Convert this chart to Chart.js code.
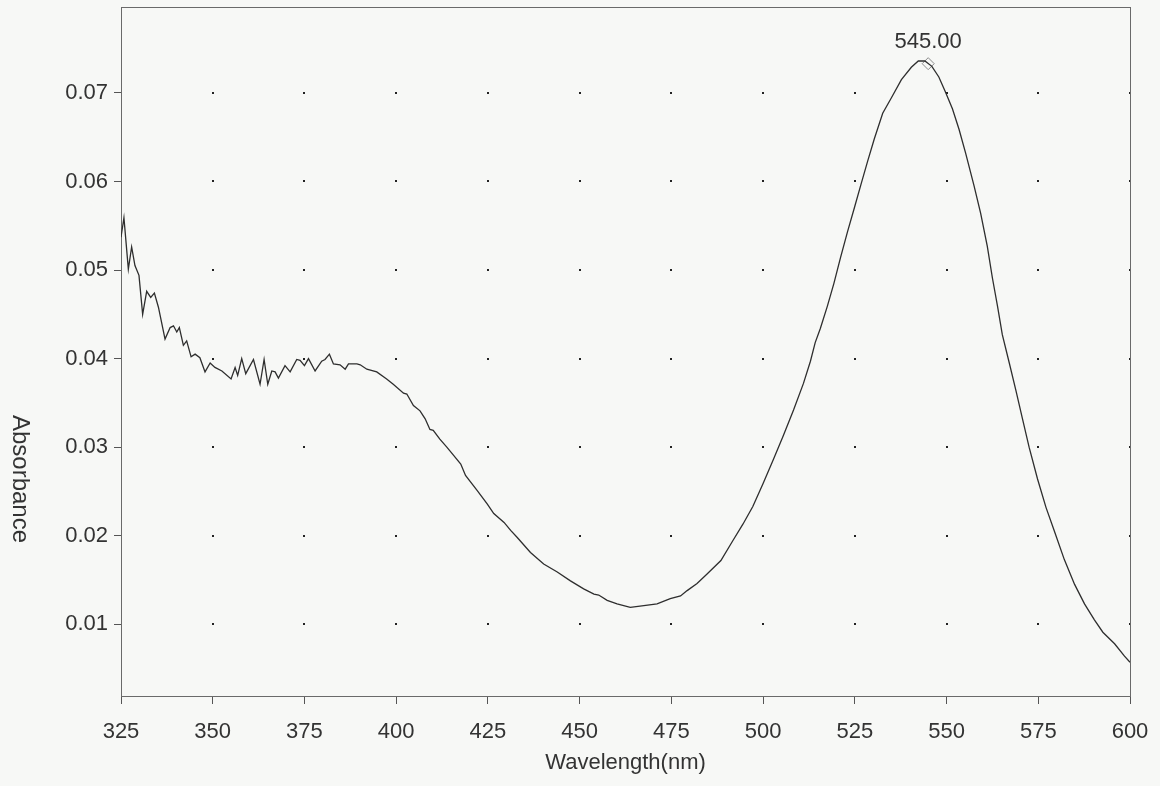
<!DOCTYPE html>
<html>
<head>
<meta charset="utf-8">
<script src="https://cdn.jsdelivr.net/npm/chart.js@4.4.1/dist/chart.umd.min.js"></script>
<style>
    html, body { margin: 0; padding: 0; background: #f7f8f6; overflow: hidden; }
    #wrap { width: 1160px; height: 786px; }
</style>
</head>
<body>
<div id="wrap"><canvas id="spectrum" width="1160" height="786"></canvas></div>
<script>
// spectrum
const wavelengths = [
    325.0, 325.8, 327.0, 327.9, 328.8, 329.9, 330.9, 332.0, 333.1, 334.1, 335.2, 337.0, 338.4, 339.3, 340.2, 340.9, 342.0, 342.9, 344.1, 345.2, 346.5, 347.9, 349.3,
    350.6, 352.5, 355.0, 356.1, 356.8, 357.9, 359.0, 361.1, 362.9, 364.0, 365.0, 366.1, 367.0, 367.9, 369.7, 371.1, 372.9, 373.8,
    375.0, 376.1, 377.9, 379.7, 380.6, 381.8, 382.9, 384.7, 386.1, 387.0, 389.3, 390.2, 392.0, 394.7, 397.4, 399.2,
    402.0, 402.9, 404.7, 406.5, 407.9, 409.2, 410.1, 411.9, 413.8, 415.6, 417.6, 418.9, 422.1, 424.8, 426.6, 429.4, 431.2, 433.0, 436.6, 440.2, 443.9, 447.5,
    451.1, 453.9, 455.2, 457.5, 460.2, 463.8, 467.5, 471.1, 474.7, 477.5, 479.3, 482.0, 484.8, 488.5, 491.7, 494.5, 497.2,
    500.0, 502.8, 505.5, 508.3, 511.0, 512.9, 514.2, 515.6, 517.5, 519.3, 521.1, 523.0, 525.0, 526.7, 528.5, 530.3, 532.6, 534.9, 537.7, 540.4, 542.3, 544.1,
    546.0, 547.9, 549.7, 551.6, 553.4, 555.2, 557.5, 559.3, 561.1, 562.5, 563.9, 565.2, 567.1, 568.9, 570.7, 572.5, 574.8, 577.1, 579.4, 582.1, 584.9, 587.6, 590.3, 592.6, 595.8, 598.5, 600.0
];
const absorbance = [
    0.0537, 0.0559, 0.0501, 0.0526, 0.0505, 0.0494, 0.0450, 0.0476, 0.0469, 0.0474, 0.0458, 0.0422, 0.0435, 0.0437, 0.0430, 0.0435, 0.0415, 0.0420, 0.0402, 0.0405, 0.0401, 0.0385, 0.0395,
    0.0390, 0.0386, 0.0377, 0.0390, 0.0381, 0.0400, 0.0383, 0.0399, 0.0371, 0.0399, 0.0371, 0.0386, 0.0385, 0.0378, 0.0392, 0.0385, 0.0399, 0.0398,
    0.0392, 0.0400, 0.0386, 0.0397, 0.0399, 0.0405, 0.0394, 0.0393, 0.0388, 0.0394, 0.0394, 0.0393, 0.0388, 0.0385, 0.0377, 0.0371,
    0.0361, 0.0360, 0.0347, 0.0341, 0.0332, 0.0320, 0.0319, 0.0309, 0.0300, 0.0291, 0.0281, 0.0268, 0.0251, 0.0236, 0.0225, 0.0215, 0.0206, 0.0198, 0.0181, 0.0168, 0.0159, 0.0149,
    0.0140, 0.0134, 0.0133, 0.0127, 0.0123, 0.0119, 0.0121, 0.0123, 0.0129, 0.0132, 0.0138, 0.0146, 0.0157, 0.0172, 0.0194, 0.0213, 0.0233,
    0.0259, 0.0286, 0.0313, 0.0342, 0.0372, 0.0397, 0.0418, 0.0434, 0.0459, 0.0485, 0.0514, 0.0543, 0.0572, 0.0597, 0.0623, 0.0648, 0.0677, 0.0694, 0.0715, 0.0729, 0.0736, 0.0736,
    0.0730, 0.0718, 0.0701, 0.0682, 0.0659, 0.0632, 0.0595, 0.0564, 0.0527, 0.0491, 0.0459, 0.0427, 0.0395, 0.0364, 0.0332, 0.0300, 0.0264, 0.0232, 0.0205, 0.0173, 0.0145, 0.0123, 0.0105, 0.0091, 0.0078, 0.0064, 0.0057
];
const peakWavelength = [545];
const peakAbsorbance = [0.0733];

const xTickValues = [325, 350, 375, 400, 425, 450, 475, 500, 525, 550, 575, 600];
const yTickValues = [0.01, 0.02, 0.03, 0.04, 0.05, 0.06, 0.07];
const xRange = [325, 600];
const yRange = [0.0019, 0.0797];
const xTitle = "Wavelength(nm)";
const yTitle = "Absorbance";

const sans = "'Liberation Sans', Arial, sans-serif";
const textColor = "#333";

// dotted grid at every tick crossing, plus the frame
const dotGrid = {
    id: "dotGrid",
    beforeDatasetsDraw(chart) {
        const { ctx, chartArea, scales } = chart;
        ctx.save();
        ctx.fillStyle = "#222";
        xTickValues.slice(1).forEach(function (xv) {
            yTickValues.forEach(function (yv) {
                const px = Math.round(scales.x.getPixelForValue(xv));
                const py = Math.round(scales.y.getPixelForValue(yv));
                ctx.fillRect(px - 1, py - 1, 2, 2);
            });
        });
        ctx.strokeStyle = "#6a6a6a";
        ctx.lineWidth = 1;
        ctx.strokeRect(chartArea.left + 0.5, chartArea.top + 0.5,
            chartArea.right - chartArea.left, chartArea.bottom - chartArea.top);
        ctx.restore();
    }
};

// y title reads top to bottom in the original
const sideTitle = {
    id: "sideTitle",
    afterDraw(chart) {
        const ctx = chart.ctx;
        ctx.save();
        ctx.translate(20, 479);
        ctx.rotate(Math.PI / 2);
        ctx.font = "24px " + sans;
        ctx.fillStyle = textColor;
        ctx.textAlign = "center";
        ctx.textBaseline = "middle";
        ctx.fillText(yTitle, 0, 0);
        ctx.restore();
    }
};

const peakLabel = {
    id: "peakLabel",
    afterDatasetsDraw(chart) {
        const { ctx, scales } = chart;
        ctx.save();
        ctx.font = "22px " + sans;
        ctx.fillStyle = textColor;
        ctx.textAlign = "center";
        ctx.textBaseline = "alphabetic";
        peakWavelength.forEach(function (w, i) {
            const px = scales.x.getPixelForValue(w);
            const py = scales.y.getPixelForValue(peakAbsorbance[i]);
            ctx.fillText(w.toFixed(2), px, py - 16);
        });
        ctx.restore();
    }
};

const spectrum = wavelengths.map(function (w, i) { return { x: w, y: absorbance[i] }; });
const peaks = peakWavelength.map(function (w, i) { return { x: w, y: peakAbsorbance[i] }; });

new Chart(document.getElementById("spectrum").getContext("2d"), {
    type: "line",
    data: {
        datasets: [{
            data: spectrum,
            borderColor: "#2e2e2e",
            borderWidth: 1.3,
            pointRadius: 0,
            tension: 0,
            fill: false
        }, {
            data: peaks,
            showLine: false,
            pointStyle: "rectRot",
            pointRadius: 6,
            pointBorderWidth: 1,
            pointBorderColor: "#8a8a8a",
            pointBackgroundColor: "rgba(0,0,0,0)"
        }]
    },
    options: {
        responsive: false,
        animation: false,
        layout: { padding: { top: 5, right: 30, left: 0, bottom: 0 } },
        plugins: { legend: { display: false }, tooltip: { enabled: false } },
        scales: {
            x: {
                type: "linear",
                min: xRange[0],
                max: xRange[1],
                border: { display: false },
                grid: { drawOnChartArea: false, drawTicks: true, tickLength: 8, color: "#555" },
                afterBuildTicks: function (scale) {
                    scale.ticks = xTickValues.map(function (v) { return { value: v }; });
                },
                afterFit: function (scale) {
                    scale.height = 90;
                    scale.paddingLeft = 0;
                    scale.paddingRight = 0;
                },
                ticks: {
                    autoSkip: false,
                    maxRotation: 0,
                    padding: 15,
                    color: textColor,
                    font: { family: sans, size: 22 },
                    callback: function (v) { return String(v); }
                },
                title: {
                    display: true,
                    text: xTitle,
                    color: textColor,
                    font: { family: sans, size: 22 },
                    padding: { top: 0, bottom: 10 }
                }
            },
            y: {
                min: yRange[0],
                max: yRange[1],
                border: { display: false },
                grid: { drawOnChartArea: false, drawTicks: true, tickLength: 7, color: "#555" },
                afterBuildTicks: function (scale) {
                    scale.ticks = yTickValues.map(function (v) { return { value: v }; });
                },
                afterFit: function (scale) {
                    scale.width = 121;
                    scale.paddingTop = 0;
                    scale.paddingBottom = 0;
                },
                ticks: {
                    padding: 6,
                    color: textColor,
                    font: { family: sans, size: 22 },
                    callback: function (v) { return v.toFixed(2); }
                }
            }
        }
    },
    plugins: [dotGrid, sideTitle, peakLabel]
});
</script>
</body>
</html>
